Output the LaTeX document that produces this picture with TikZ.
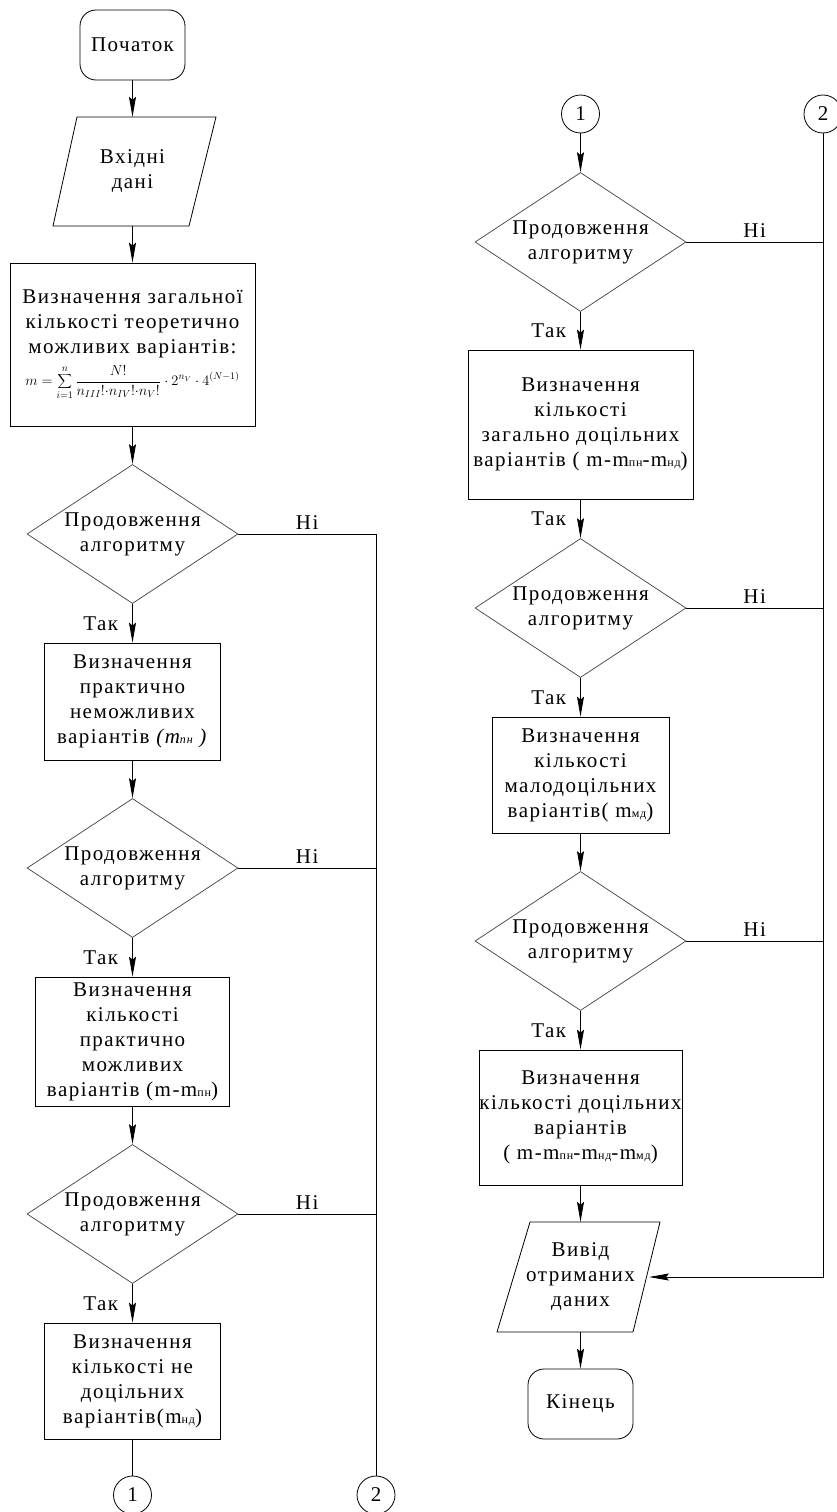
\documentclass[tikz,border=0pt]{standalone}
\usepackage{fontspec}
\setmainfont{Liberation Serif}[LetterSpace=7]
\usetikzlibrary{shapes.geometric,arrows.meta,calc}
\newcommand{\mysub}[1]{{\fontsize{12}{12}\selectfont #1}}
\begin{document}
\begin{tikzpicture}[x=1pt,y=-1pt,
  every node/.style={font=\fontsize{21}{25}\selectfont, text=black},
  ln/.style={draw=black, line width=0.8pt},
  arr/.style={ln, -{Stealth[length=20pt,width=7pt,inset=3pt]}},
  proc/.style={draw, rectangle, align=center, inner sep=0pt, line width=0.8pt},
  term/.style={draw, rectangle, rounded corners=16pt, align=center, line width=0.8pt, minimum width=105pt, minimum height=70pt},
  dec/.style={draw=black!75, diamond, aspect=1.52, inner sep=0pt, minimum width=211pt, minimum height=139pt, align=center, line width=0.7pt},
  conn/.style={draw, circle, minimum size=38pt, inner sep=0pt, line width=0.8pt},
  tak/.style={anchor=east, xshift=-13pt, inner sep=1pt},
  ni/.style={above, inner sep=4pt}
]
\useasboundingbox (0,0) rectangle (837,1512);
% left column
\node[term] (start) at (132.5,45) {Початок};
\node[minimum width=136pt, minimum height=109pt, inner sep=0pt, align=center] (in) at (132.5,171.5) {Вхідні\\дані};
\draw[ln] (77,117) -- (216,117) -- (189,226) -- (53,226) -- cycle;
\node[proc, minimum width=245pt, minimum height=163pt] (fm) at (132.5,344.5) {Визначення загальної\\кількості теоретично\\можливих варіантів:\\[7pt]
  {\fontsize{14}{16}\selectfont $m=\displaystyle\sum_{i=1}^{n}\frac{N!}{n_{III}!{\cdot}n_{IV}!{\cdot}n_{V}!}\cdot 2^{n_V}\cdot 4^{(N-1)}$}};
\node[dec] (d1) at (132.5,534) {Продовження\\алгоритму};
\node[proc, minimum width=176pt, minimum height=117pt] (b2) at (132.5,701.5) {Визначення\\практично\\неможливих\\варіантів \textit{(m\mysub{пн} )}};
\node[dec] (d2) at (132.5,868) {Продовження\\алгоритму};
\node[proc, minimum width=194pt, minimum height=129pt] (b3) at (132.5,1041.5) {Визначення\\кількості\\практично\\можливих\\варіантів (m-m\mysub{пн})};
\node[dec] (d3) at (132.5,1214) {Продовження\\алгоритму};
\node[proc, minimum width=176pt, minimum height=116pt] (b4) at (132.5,1381) {Визначення\\кількості не\\доцільних\\варіантів(m\mysub{нд})};
\node[conn] (c1L) at (132.5,1495) {1};
\node[conn] (c2L) at (376,1495) {2};
\draw[arr] (start) -- (in);
\draw[arr] (in) -- (fm);
\draw[arr] (fm) -- (d1);
\draw[arr] (d1) -- node[tak]{Так} (b2);
\draw[arr] (b2) -- (d2);
\draw[arr] (d2) -- node[tak]{Так} (b3);
\draw[arr] (b3) -- (d3);
\draw[arr] (d3) -- node[tak]{Так} (b4);
\draw[ln] (b4) -- (c1L);
\draw[ln] (d1.east) -- node[ni]{Ні} (d1.east -| c2L);
\draw[ln] (d2.east) -- node[ni]{Ні} (d2.east -| c2L);
\draw[ln] (d3.east) -- node[ni]{Ні} (d3.east -| c2L);
\draw[ln] (d1.east -| c2L) -- (c2L);
% right column
\node[conn] (c1R) at (580.5,114) {1};
\node[conn] (c2R) at (823,114) {2};
\node[dec] (r1) at (580.5,242) {Продовження\\алгоритму};
\node[proc, minimum width=225pt, minimum height=149pt] (R1) at (580.5,424.5) {Визначення\\кількості\\загально доцільних\\варіантів ( m-m\mysub{пн}-m\mysub{нд})};
\node[dec] (r2) at (580.5,608) {Продовження\\алгоритму};
\node[proc, minimum width=177pt, minimum height=116pt] (R2) at (580.5,775) {Визначення\\кількості\\малодоцільних\\варіантів( m\mysub{мд})};
\node[dec] (r3) at (580.5,941) {Продовження\\алгоритму};
\node[proc, minimum width=203pt, minimum height=135pt] (R3) at (580.5,1117.5) {Визначення\\кількості доцільних\\варіантів\\( m-m\mysub{пн}-m\mysub{нд}-m\mysub{мд})};
\node[minimum width=130pt, minimum height=110pt, inner sep=0pt, align=center] (out) at (580.5,1277) {Вивід\\отриманих\\даних};
\draw[ln] (530,1222) -- (660,1222) -- (633,1332) -- (497,1332) -- cycle;
\coordinate (outR) at (649,1277);
\node[term] (end) at (580.5,1404) {Кінець};
\draw[arr] (c1R) -- (r1);
\draw[arr] (r1) -- node[tak]{Так} (R1);
\draw[arr] (R1) -- node[tak]{Так} (r2);
\draw[arr] (r2) -- node[tak]{Так} (R2);
\draw[arr] (R2) -- (r3);
\draw[arr] (r3) -- node[tak]{Так} (R3);
\draw[arr] (R3) -- (out);
\draw[arr] (out) -- (end);
\draw[ln] (r1.east) -- node[ni]{Ні} (r1.east -| c2R);
\draw[ln] (r2.east) -- node[ni]{Ні} (r2.east -| c2R);
\draw[ln] (r3.east) -- node[ni]{Ні} (r3.east -| c2R);
\draw[arr] (c2R) -- (c2R |- outR) -- (outR);
\end{tikzpicture}
\end{document}
